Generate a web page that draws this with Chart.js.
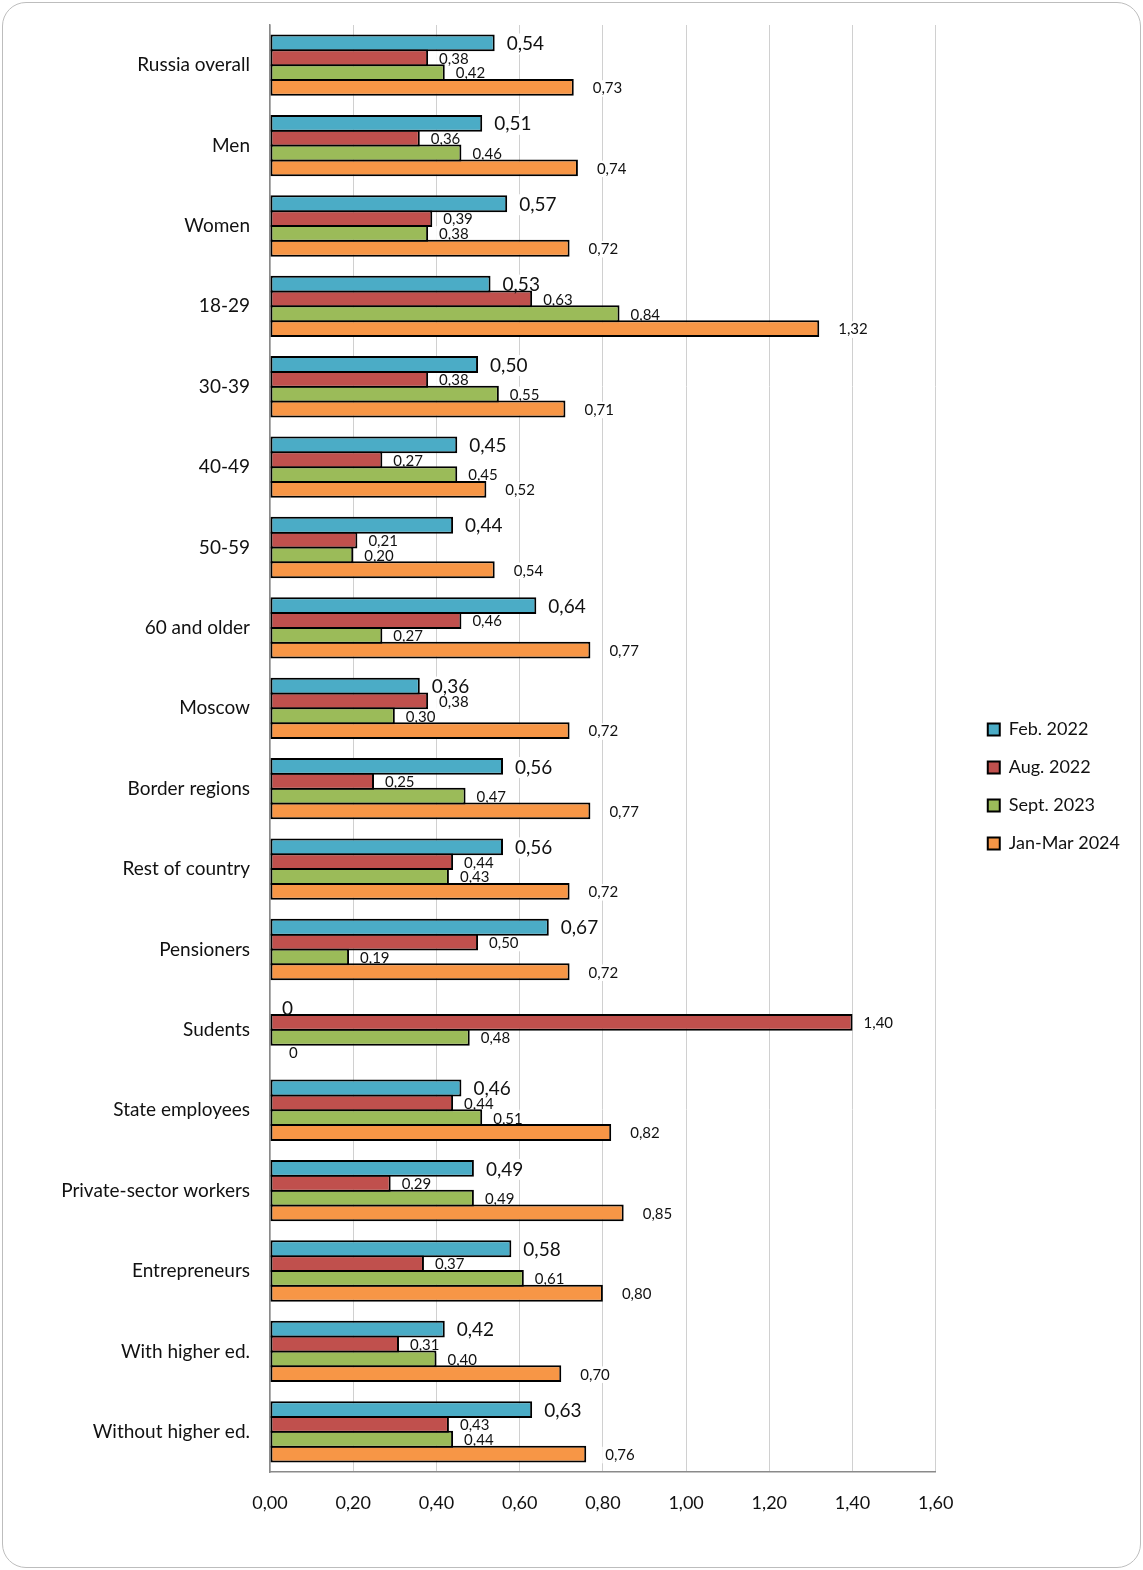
<!DOCTYPE html>
<html><head><meta charset="utf-8">
<script src="https://cdn.jsdelivr.net/npm/chart.js@4.4.1/dist/chart.umd.min.js"></script>
<style>
html,body{margin:0;padding:0;background:#fff;}
#wrap{position:relative;width:1143px;height:1570px;}
#frame{position:absolute;left:2px;top:2px;width:1139px;height:1566px;border:1.5px solid #bdbdbd;border-radius:24px;box-sizing:border-box;pointer-events:none;}
canvas{position:absolute;left:0;top:0;}
</style></head><body>
<div id="wrap"><canvas id="c" width="1143" height="1570" style="width:1143px;height:1570px"></canvas><div id="frame"></div></div>
<script>
const categories = ["Russia overall","Men","Women","18-29","30-39","40-49","50-59","60 and older","Moscow","Border regions","Rest of country","Pensioners","Sudents","State employees","Private-sector workers","Entrepreneurs","With higher ed.","Without higher ed."];
const seriesNames = ["Feb. 2022","Aug. 2022","Sept. 2023","Jan-Mar 2024"];
const feb2022 = [0.54,0.51,0.57,0.53,0.50,0.45,0.44,0.64,0.36,0.56,0.56,0.67,0,0.46,0.49,0.58,0.42,0.63];
const aug2022 = [0.38,0.36,0.39,0.63,0.38,0.27,0.21,0.46,0.38,0.25,0.44,0.50,1.40,0.44,0.29,0.37,0.31,0.43];
const sept2023 = [0.42,0.46,0.38,0.84,0.55,0.45,0.20,0.27,0.30,0.47,0.43,0.19,0.48,0.51,0.49,0.61,0.40,0.44];
const janMar2024 = [0.73,0.74,0.72,1.32,0.71,0.52,0.54,0.77,0.72,0.77,0.72,0.72,0,0.82,0.85,0.80,0.70,0.76];
const xTicks = [0,0.2,0.4,0.6,0.8,1.0,1.2,1.4,1.6];

const colors = ["#4BACC6","#C0504D","#9BBB59","#F79646"];
const labelStyle = [{size:19,dx:12},{size:15,dx:11},{size:15,dx:11},{size:15,dx:19}];
const FONT = "Lato";
const LEGEND_DX = 32, LEGEND_DY = 18;

function fmt(v){ return v===0 ? "0" : v.toFixed(2).replace(".", ","); }

function drawLabels(chart, bgOnly){
  const ctx = chart.ctx;
  chart.data.datasets.forEach((ds, di) => {
    const meta = chart.getDatasetMeta(di);
    const st = labelStyle[di];
    ctx.save();
    ctx.font = st.size + "px " + FONT;
    ctx.textBaseline = "middle";
    ctx.textAlign = "left";
    meta.data.forEach((el, i) => {
      const txt = fmt(ds.data[i]);
      const x = el.x + st.dx, y = el.y + 1;
      const w = ctx.measureText(txt).width;
      if (bgOnly) {
        ctx.fillStyle = "#fff";
        ctx.fillRect(x - 3, y - st.size * 0.55, w + 6, st.size * 1.1);
      } else {
        ctx.fillStyle = "#111";
        ctx.fillText(txt, x, y);
      }
    });
    ctx.restore();
  });
}

const labelPlugin = {
  id: "barLabels",
  beforeDatasetsDraw(chart){ drawLabels(chart, true); },
  afterDatasetsDraw(chart){ drawLabels(chart, false); }
};
const legendShift = {
  id: "legendShift",
  afterLayout(chart){
    const l = chart.legend;
    if (!l) return;
    l.left += LEGEND_DX; l.right += LEGEND_DX;
    l.top += LEGEND_DY; l.bottom += LEGEND_DY;
  }
};

const seriesData = [feb2022, aug2022, sept2023, janMar2024];
const datasets = seriesData.map((d, i) => ({
  label: seriesNames[i],
  data: d,
  backgroundColor: colors[i],
  borderColor: "#000",
  borderWidth: 2,
  borderSkipped: false,
  categoryPercentage: 0.738,
  barPercentage: 1.135
}));

new Chart(document.getElementById("c"), {
  type: "bar",
  data: { labels: categories, datasets },
  options: {
    indexAxis: "y",
    responsive: false,
    animation: false,
    devicePixelRatio: 1,
    layout: { padding: { top: 25, bottom: 58, left: 0, right: 45 } },
    plugins: {
      tooltip: { enabled: false },
      legend: {
        position: "right",
        align: "center",
        labels: {
          boxWidth: 12, boxHeight: 12, padding: 20,
          color: "#111",
          font: { family: FONT, size: 18 }
        }
      }
    },
    scales: {
      x: {
        min: 0, max: 1.6,
        afterBuildTicks(scale){ scale.ticks = xTicks.map(v => ({ value: v })); },
        afterFit(scale){ scale.height = 40; },
        grid: { color: "#d0d0d0", lineWidth: 1, drawTicks: false },
        border: { display: true, color: "#8a8a8a", width: 1.5 },
        ticks: {
          padding: 20, color: "#111",
          font: { family: FONT, size: 18 },
          callback: (v) => Number(v).toFixed(2).replace(".", ",")
        }
      },
      y: {
        afterFit(scale){ scale.width = 270; scale.paddingTop = 0; scale.paddingBottom = 0; },
        grid: { display: false, drawTicks: false },
        border: { display: true, color: "#8a8a8a", width: 1.5 },
        ticks: { padding: 20, color: "#111", font: { family: FONT, size: 19 } }
      }
    }
  },
  plugins: [labelPlugin, legendShift]
});
</script>
</body></html>
